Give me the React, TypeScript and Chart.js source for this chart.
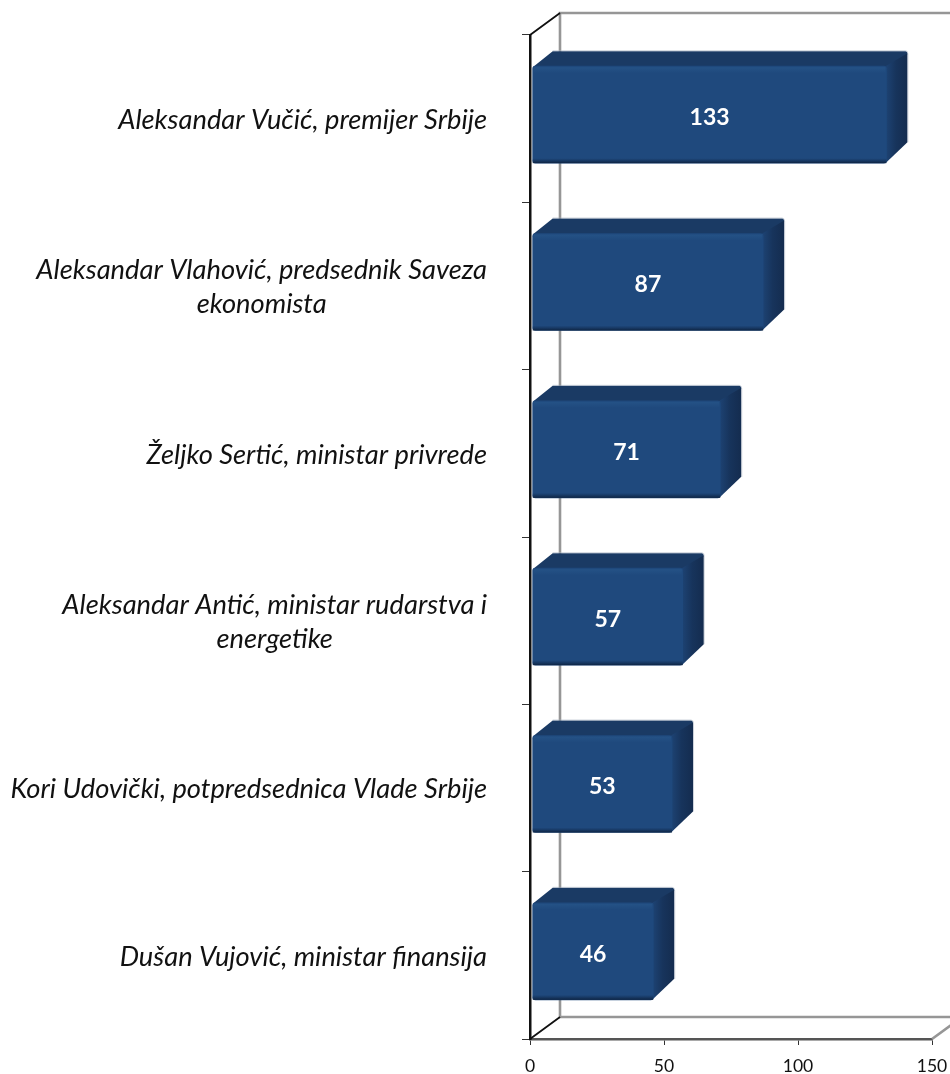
import React, { useEffect, useRef } from "react";
import { Chart, registerables } from "chart.js";

Chart.register(...registerables);

const categories: string[][] = [
  ["Aleksandar Vučić, premijer Srbije"],
  ["Aleksandar Vlahović, predsednik Saveza", "ekonomista"],
  ["Željko Sertić, ministar privrede"],
  ["Aleksandar Antić, ministar rudarstva i", "energetike"],
  ["Kori Udovički, potpredsednica Vlade Srbije"],
  ["Dušan Vujović, ministar finansija"],
];
const values: number[] = [133, 87, 71, 57, 53, 46];
const xTicks: number[] = [0, 50, 100, 150];

const WALL_DX = 30;
const WALL_DY = 22;
const BAR_DX = 21;
const BAR_DY = 15;
const BAR_SHIFT = -4;
const FRONT = "#1F497D";
const FONT = "Lato";

const walls = {
  id: "walls",
  beforeDatasetsDraw(chart: any) {
    const { ctx, chartArea: a } = chart;
    const rightEdge = chart.width;
    ctx.save();
    ctx.strokeStyle = "#969696";
    ctx.lineWidth = 2.6;
    ctx.beginPath();
    ctx.moveTo(rightEdge, a.top - WALL_DY);
    ctx.lineTo(a.left + WALL_DX, a.top - WALL_DY);
    ctx.lineTo(a.left + WALL_DX, a.bottom - WALL_DY);
    ctx.lineTo(rightEdge, a.bottom - WALL_DY);
    ctx.moveTo(a.right, a.bottom);
    ctx.lineTo(a.right + WALL_DX, a.bottom - WALL_DY);
    ctx.stroke();
    ctx.strokeStyle = "#111";
    ctx.lineWidth = 1.8;
    ctx.beginPath();
    ctx.moveTo(a.left, a.top);
    ctx.lineTo(a.left + WALL_DX, a.top - WALL_DY);
    ctx.moveTo(a.left, a.bottom);
    ctx.lineTo(a.left + WALL_DX, a.bottom - WALL_DY);
    ctx.stroke();
    ctx.restore();
  },
};

const bars3d = {
  id: "bars3d",
  beforeDatasetDraw(chart: any) {
    const { ctx } = chart;
    const meta = chart.getDatasetMeta(0);
    ctx.save();
    ctx.translate(0, BAR_SHIFT);
    meta.data.forEach((bar: any) => {
      const { x, y, base, height } = bar.getProps(["x", "y", "base", "height"], true);
      const top = y - height / 2;
      const bottom = y + height / 2;
      // top face
      ctx.fillStyle = "#1A3A64";
      ctx.strokeStyle = "rgba(170,180,195,0.55)";
      ctx.lineWidth = 1;
      ctx.beginPath();
      ctx.moveTo(base, top + 1);
      ctx.lineTo(base + BAR_DX - 1, top - BAR_DY);
      ctx.lineTo(x + BAR_DX - 2, top - BAR_DY);
      ctx.quadraticCurveTo(x + BAR_DX, top - BAR_DY, x + BAR_DX, top - BAR_DY + 3);
      ctx.lineTo(x, top + 1);
      ctx.closePath();
      ctx.fill();
      // side face
      const g = ctx.createLinearGradient(x, 0, x + BAR_DX, 0);
      g.addColorStop(0, "#1D4272");
      g.addColorStop(0.45, "#17345C");
      g.addColorStop(1, "#142C4F");
      ctx.fillStyle = g;
      ctx.beginPath();
      ctx.moveTo(x - 1, top);
      ctx.lineTo(x + BAR_DX, top - BAR_DY + 2);
      ctx.lineTo(x + BAR_DX, bottom - BAR_DY - 6);
      ctx.lineTo(x - 1, bottom);
      ctx.closePath();
      ctx.fill();
      // faint outer rim
      ctx.beginPath();
      ctx.moveTo(base + BAR_DX - 1, top - BAR_DY - 0.5);
      ctx.lineTo(x + BAR_DX - 2, top - BAR_DY - 0.5);
      ctx.quadraticCurveTo(x + BAR_DX + 0.5, top - BAR_DY - 0.5, x + BAR_DX + 0.5, top - BAR_DY + 3);
      ctx.lineTo(x + BAR_DX + 0.5, bottom - BAR_DY - 6);
      ctx.stroke();
    });
  },
  afterDatasetDraw(chart: any) {
    const { ctx } = chart;
    const meta = chart.getDatasetMeta(0);
    meta.data.forEach((bar: any, i: number) => {
      const { x, y, base, height } = bar.getProps(["x", "y", "base", "height"], true);
      const top = y - height / 2;
      const bottom = y + height / 2;
      // bevel on the front
      const gt = ctx.createLinearGradient(0, top, 0, top + 7);
      gt.addColorStop(0, "rgba(40,88,140,0.7)");
      gt.addColorStop(1, "rgba(40,88,140,0)");
      ctx.fillStyle = gt;
      ctx.fillRect(base + 1, top + 1, x - base - 2, 6);
      const gb = ctx.createLinearGradient(0, bottom - 5, 0, bottom);
      gb.addColorStop(0, "rgba(15,40,75,0)");
      gb.addColorStop(1, "rgba(12,32,60,0.9)");
      ctx.fillStyle = gb;
      ctx.fillRect(base, bottom - 5, x - base, 5);
      // value label
      ctx.fillStyle = "#ffffff";
      ctx.font = `bold 23px ${FONT}`;
      ctx.textAlign = "center";
      ctx.textBaseline = "middle";
      ctx.fillText(String(values[i]), (base + x) / 2, y + 3);
    });
    ctx.restore();
  },
};

// Wrapped category labels are centred on their own widest line in the reference.
const centreWrappedLabels = {
  id: "centreWrappedLabels",
  beforeDraw(chart: any) {
    const scale = chart.scales.y;
    const { ctx } = chart;
    scale.getLabelItems().forEach((item: any) => {
      if (item.__adjusted) return;
      item.__adjusted = true;
      item.options.translation[1] += 1.5;
      if (Array.isArray(item.label)) {
        ctx.save();
        ctx.font = item.font.string;
        const widest = Math.max(...item.label.map((l: string) => ctx.measureText(l).width));
        ctx.restore();
        item.options.textAlign = "center";
        item.options.translation[0] -= widest / 2;
      }
    });
  },
};

export default function App() {
  const ref = useRef<HTMLCanvasElement>(null);
  useEffect(() => {
    const chart = new Chart(ref.current!, {
      type: "bar",
      data: {
        labels: categories as any,
        datasets: [
          {
            data: values,
            base: 1,
            backgroundColor: FRONT,
            borderRadius: 3,
            borderSkipped: false,
            barThickness: 97,
          } as any,
        ],
      },
      options: {
        indexAxis: "y",
        responsive: false,
        animation: false,
        layout: { autoPadding: false, padding: { top: 35, right: 18, left: 0, bottom: 0 } },
        plugins: { legend: { display: false }, tooltip: { enabled: false }, title: { display: false } },
        scales: {
          x: {
            type: "linear",
            min: 0,
            max: 150,
            afterBuildTicks(s: any) {
              s.ticks = xTicks.map((value) => ({ value }));
            },
            afterFit(s: any) {
              s.height = 35;
              s.paddingLeft = 0;
              s.paddingRight = 0;
              s.paddingTop = 0;
              s.paddingBottom = 0;
            },
            border: { color: "#555555", width: 2.5 },
            grid: { drawOnChartArea: false, drawTicks: true, tickLength: 6, color: "#333333", lineWidth: 1 },
            ticks: { color: "#111", font: { family: FONT, size: 17.5 }, padding: 11, maxRotation: 0 },
          },
          y: {
            type: "category",
            afterFit(s: any) {
              s.width = 530;
              s.paddingLeft = 0;
              s.paddingRight = 0;
              s.paddingTop = 0;
              s.paddingBottom = 0;
            },
            border: { color: "#111111", width: 2.5 },
            grid: { offset: true, drawOnChartArea: false, drawTicks: true, tickLength: 8, color: "#333333", lineWidth: 1 },
            ticks: {
              color: "#111",
              autoSkip: false,
              padding: 35,
              font: { family: FONT, size: 27.3, style: "italic", lineHeight: 34 / 27.3 },
            },
          },
        },
      },
      plugins: [walls, bars3d, centreWrappedLabels],
    } as any);
    return () => chart.destroy();
  }, []);
  return (
    <canvas
      ref={ref}
      width={950}
      height={1074}
      style={{ position: "absolute", left: 0, top: 0, width: 950, height: 1074, display: "block" }}
    />
  );
}
